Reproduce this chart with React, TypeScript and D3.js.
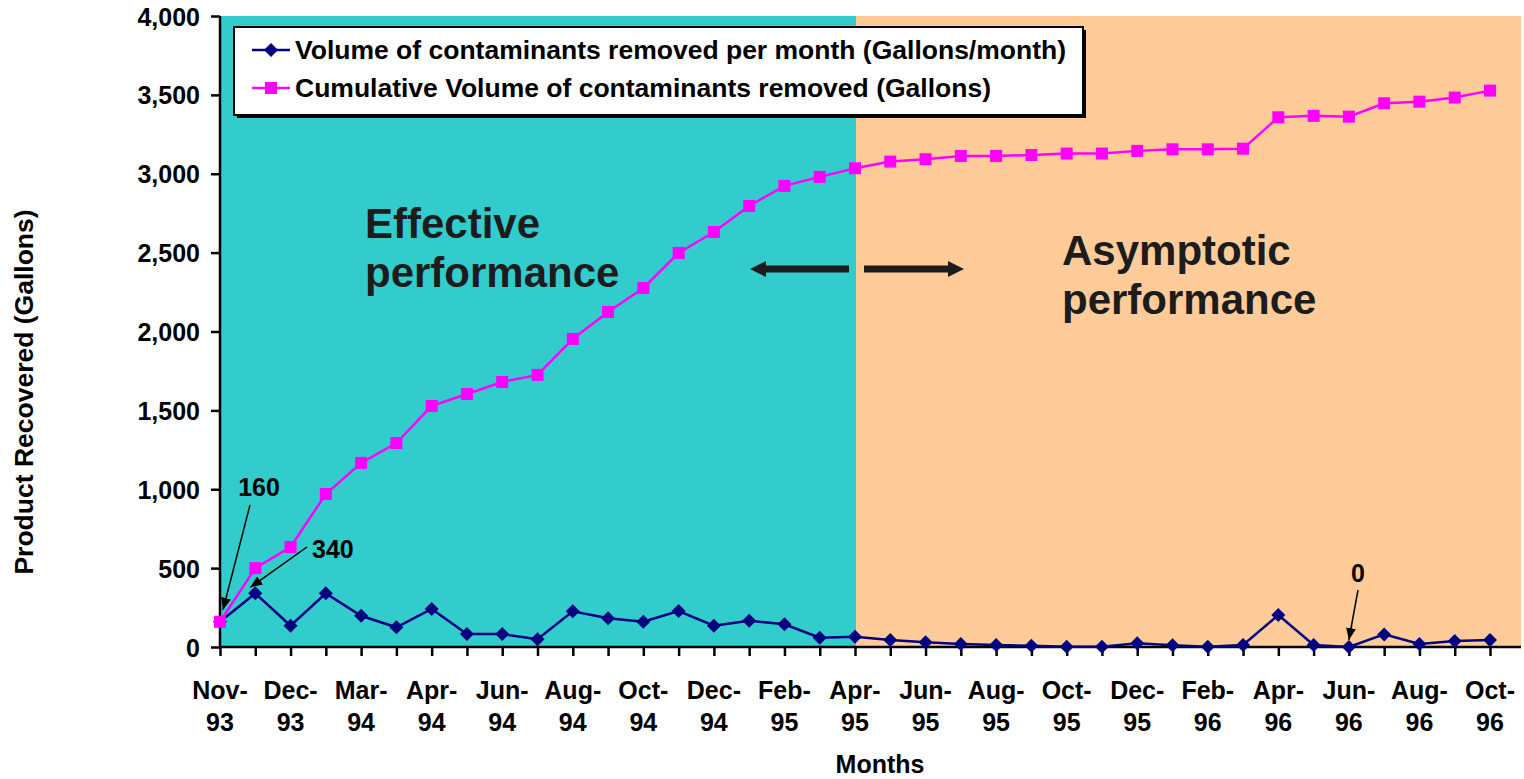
import { useEffect, useRef } from 'react';
import * as d3 from 'd3';

// every other month is labelled on the axis (index 0, 2, 4 ...)
const tickLabels = [
    "Nov-93", "Dec-93", "Mar-94", "Apr-94", "Jun-94", "Aug-94", "Oct-94",
    "Dec-94", "Feb-95", "Apr-95", "Jun-95", "Aug-95", "Oct-95", "Dec-95",
    "Feb-96", "Apr-96", "Jun-96", "Aug-96", "Oct-96",
];

const monthly = [
    160, 340, 135, 340, 198, 125, 241, 82, 82, 49, 226, 182, 160, 228, 135, 167, 144, 59, 65,
    44, 30, 19, 13, 8, 2, 2, 23, 11, 2, 13, 203, 13, 0, 80, 19, 38, 44,
];

const cumulative = [
    160, 500, 634, 970, 1167, 1293, 1528, 1604, 1680, 1725, 1953, 2124, 2276, 2498, 2631, 2796, 2923, 2980, 3035,
    3077, 3092, 3113, 3113, 3119, 3128, 3128, 3145, 3155, 3155, 3159, 3358, 3367, 3362, 3447, 3457, 3483, 3527,
];

const yTicks = [0, 500, 1000, 1500, 2000, 2500, 3000, 3500, 4000];

const seriesNames = [
    "Volume of contaminants removed per month (Gallons/month)",
    "Cumulative Volume of contaminants removed (Gallons)",
];

const phaseSplit = 18; // Apr-95
const phaseLabels = [["Effective", "performance"], ["Asymptotic", "performance"]];

const callouts = [
    { index: 0, value: 160, label: "160" },
    { index: 1, value: 340, label: "340" },
    { index: 32, value: 0, label: "0" },
];

const FONT = "'Liberation Sans', Arial, sans-serif";

const App = () => {
    const svgRef = useRef<SVGSVGElement | null>(null);

    useEffect(() => {
        if (!svgRef.current) return;
        const svg = d3.select(svgRef.current);
        svg.selectAll("*").remove();

        const width = 1524;
        const height = 779;
        const left = 220, right = 1521, top = 16, bottom = 647;

        const x = d3.scaleLinear().domain([0, 36]).range([left, 1490]);
        const y = d3.scaleLinear().domain([0, 4000]).range([bottom, top]);

        const defs = svg.append("defs");
        defs.append("marker")
            .attr("id", "head")
            .attr("markerUnits", "userSpaceOnUse")
            .attr("markerWidth", 12).attr("markerHeight", 10)
            .attr("refX", 12).attr("refY", 5)
            .attr("orient", "auto")
            .append("path").attr("d", "M0,0 L12,5 L0,10 z").attr("fill", "#000");

        // phase backgrounds
        svg.append("rect")
            .attr("x", left).attr("y", top)
            .attr("width", x(phaseSplit) - left + 1).attr("height", bottom - top)
            .attr("fill", "#33CCCC");
        svg.append("rect")
            .attr("x", x(phaseSplit) + 1).attr("y", top)
            .attr("width", right - x(phaseSplit) - 1).attr("height", bottom - top)
            .attr("fill", "#FFCC99");

        // phase text
        const phaseX = [365, 1062];
        const phaseY = [238, 265];
        phaseLabels.forEach((lines, i) => {
            const t = svg.append("text")
                .attr("font-family", FONT).attr("font-weight", "bold")
                .attr("font-size", 42).attr("fill", "#1c1c1c");
            lines.forEach((l, j) => {
                t.append("tspan").attr("x", phaseX[i]).attr("y", phaseY[i] + j * 49).text(l);
            });
        });

        // double arrow between the phases
        const ay = 269;
        svg.append("path")
            .attr("d", `M750,${ay} L766,${ay - 8} L766,${ay - 3.5} L849,${ay - 3.5} L849,${ay + 3.5} L766,${ay + 3.5} L766,${ay + 8} Z`)
            .attr("fill", "#1c1c1c");
        svg.append("path")
            .attr("d", `M964,${ay} L948,${ay - 8} L948,${ay - 3.5} L864,${ay - 3.5} L864,${ay + 3.5} L948,${ay + 3.5} L948,${ay + 8} Z`)
            .attr("fill", "#1c1c1c");

        // axes
        const yAxis = svg.append("g")
            .attr("transform", `translate(${left},0)`)
            .call(d3.axisLeft(y).tickValues(yTicks).tickSize(9).tickFormat(d3.format(",")));
        yAxis.select(".domain").attr("stroke-width", 2.5).attr("d", `M0,${top}V${bottom}`);
        yAxis.selectAll(".tick line").attr("stroke-width", 2.5);
        yAxis.selectAll("text")
            .attr("font-family", FONT).attr("font-weight", "bold").attr("font-size", 25)
            .attr("fill", "#000").attr("x", -20).attr("dy", "0.36em");

        const xAxis = svg.append("g")
            .attr("transform", `translate(0,${bottom})`)
            .call(d3.axisBottom(x).tickValues(d3.range(0, 37)).tickSize(9).tickFormat(() => ""));
        xAxis.select(".domain").attr("stroke-width", 2.5).attr("d", `M${left},0H${right}`);
        xAxis.selectAll(".tick line").attr("stroke-width", 2.5);

        const xl = svg.append("g")
            .attr("font-family", FONT).attr("font-weight", "bold").attr("font-size", 25)
            .attr("text-anchor", "middle");
        tickLabels.forEach((lab, i) => {
            const [m, yr] = lab.split("-");
            const t = xl.append("text");
            t.append("tspan").attr("x", x(i * 2)).attr("y", 699).text(`${m}-`);
            t.append("tspan").attr("x", x(i * 2)).attr("y", 731).text(yr);
        });

        // axis titles
        svg.append("text")
            .attr("x", 880).attr("y", 773)
            .attr("text-anchor", "middle")
            .attr("font-family", FONT).attr("font-weight", "bold").attr("font-size", 25)
            .text("Months");
        svg.append("text")
            .attr("transform", "translate(33,392) rotate(-90)")
            .attr("text-anchor", "middle")
            .attr("font-family", FONT).attr("font-weight", "bold").attr("font-size", 26.5)
            .text("Product Recovered (Gallons)");

        // series
        const line = d3.line<number>().x((d, i) => x(i)).y(d => y(d));

        svg.append("path").datum(monthly)
            .attr("d", line).attr("fill", "none")
            .attr("stroke", "#000080").attr("stroke-width", 2.5);
        svg.append("g").selectAll("path").data(monthly).join("path")
            .attr("transform", (d, i) => `translate(${x(i)},${y(d)})`)
            .attr("d", "M0,-7 L7,0 L0,7 L-7,0 Z")
            .attr("fill", "#000080");

        svg.append("path").datum(cumulative)
            .attr("d", line).attr("fill", "none")
            .attr("stroke", "#FF00FF").attr("stroke-width", 2.5);
        svg.append("g").selectAll("rect").data(cumulative).join("rect")
            .attr("x", (d, i) => x(i) - 6).attr("y", d => y(d) - 6)
            .attr("width", 12).attr("height", 12)
            .attr("fill", "#FF00FF");

        // callouts
        const calloutStyle = [
            { tx: 259, ty: 496, anchor: "middle", from: [250, 505], tip: [3, -12] },
            { tx: 312, ty: 558, anchor: "start", from: [307, 547], tip: [-5, -6] },
            { tx: 1358, ty: 582, anchor: "middle", from: [1358, 590], tip: [0, -7] },
        ];
        callouts.forEach((c, i) => {
            const s = calloutStyle[i];
            svg.append("line")
                .attr("x1", s.from[0]).attr("y1", s.from[1])
                .attr("x2", x(c.index) + s.tip[0]).attr("y2", y(c.value) + s.tip[1])
                .attr("stroke", "#000").attr("stroke-width", 1.5)
                .attr("marker-end", "url(#head)");
            svg.append("text")
                .attr("x", s.tx).attr("y", s.ty)
                .attr("text-anchor", s.anchor)
                .attr("font-family", FONT).attr("font-weight", "bold").attr("font-size", 25)
                .text(c.label);
        });

        // legend
        const lg = svg.append("g");
        lg.append("rect").attr("x", 237).attr("y", 30).attr("width", 849).attr("height", 88).attr("fill", "#000");
        lg.append("rect").attr("x", 234).attr("y", 27).attr("width", 849).attr("height", 88)
            .attr("fill", "#fff").attr("stroke", "#000").attr("stroke-width", 2);
        const colors = ["#000080", "#FF00FF"];
        seriesNames.forEach((name, i) => {
            const ly = 50 + i * 38;
            lg.append("line").attr("x1", 252).attr("x2", 290).attr("y1", ly).attr("y2", ly)
                .attr("stroke", colors[i]).attr("stroke-width", 2.5);
            if (i === 0) {
                lg.append("path").attr("transform", `translate(271,${ly})`)
                    .attr("d", "M0,-7 L7,0 L0,7 L-7,0 Z").attr("fill", colors[i]);
            } else {
                lg.append("rect").attr("x", 265).attr("y", ly - 6).attr("width", 12).attr("height", 12)
                    .attr("fill", colors[i]);
            }
            lg.append("text")
                .attr("x", 295).attr("y", ly + 9)
                .attr("font-family", FONT).attr("font-weight", "bold").attr("font-size", 26.5)
                .text(name);
        });

        svg.attr("width", width).attr("height", height);
    }, []);

    return (
        <svg ref={svgRef} width={1524} height={779}
            style={{ position: "absolute", left: 0, top: 0, background: "#fff" }} />
    );
};

export default App;
